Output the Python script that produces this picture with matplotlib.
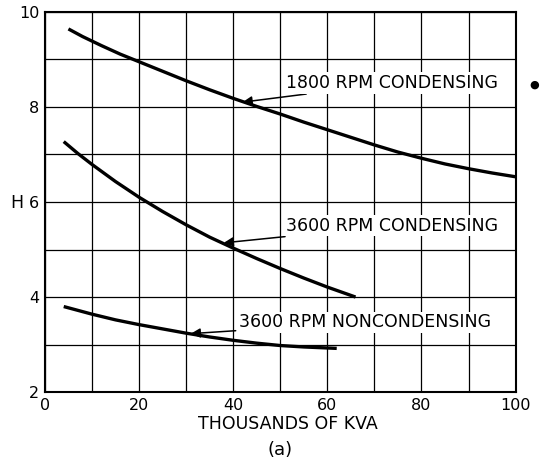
import numpy as np
import matplotlib
matplotlib.use('Agg')
import matplotlib.pyplot as plt

# curves (thousands of kVA vs H)
kva_1800c = [5, 8, 12, 16, 20, 25, 30, 35, 40, 45, 50, 55, 60, 65, 70, 75, 80, 85, 90, 95, 100]
h_1800c = [9.64, 9.48, 9.29, 9.11, 8.95, 8.75, 8.55, 8.36, 8.18, 8.01, 7.85, 7.68,
           7.52, 7.36, 7.2, 7.05, 6.92, 6.8, 6.7, 6.61, 6.53]

kva_3600c = [4, 7, 10, 15, 20, 25, 30, 35, 40, 45, 50, 55, 60, 66]
h_3600c = [7.27, 7.02, 6.79, 6.43, 6.1, 5.8, 5.52, 5.26, 5.03, 4.81, 4.6, 4.4, 4.21, 4.0]

kva_3600n = [4, 10, 15, 20, 25, 30, 35, 40, 45, 50, 55, 62]
h_3600n = [3.8, 3.64, 3.52, 3.42, 3.33, 3.24, 3.16, 3.09, 3.03, 2.98, 2.95, 2.92]

labels = ['1800 RPM CONDENSING', '3600 RPM CONDENSING', '3600 RPM NONCONDENSING']
label_xy = [(51.2, 8.5), (51.2, 5.5), (41.2, 3.47)]
arrow_tip = [(42, 8.1), (38, 5.14), (31, 3.23)]

plt.rcParams['font.family'] = 'DejaVu Sans'

fig = plt.figure(figsize=(5.41, 4.73), dpi=100)
ax = fig.add_axes([0.083, 0.171, 0.870, 0.804])

ax.set_xlim(0, 100)
ax.set_ylim(2, 10)
ax.set_xticks(np.arange(0, 101, 10))
ax.set_yticks(np.arange(2, 10.1, 1))
ax.set_xticklabels([str(v) if v % 20 == 0 else '' for v in range(0, 101, 10)])
ax.set_yticklabels([str(v) if v % 2 == 0 else '' for v in range(2, 11)])
ax.tick_params(length=0, labelsize=11.5, pad=4)
ax.grid(True, color='black', linewidth=0.9)
for s in ax.spines.values():
    s.set_linewidth(1.5)

for x, y in [(kva_1800c, h_1800c), (kva_3600c, h_3600c), (kva_3600n, h_3600n)]:
    ax.plot(x, y, color='black', linewidth=2.4, solid_capstyle='butt')

for txt, (tx, ty), (ax_, ay) in zip(labels, label_xy, arrow_tip):
    ax.annotate(txt, xy=(ax_, ay), xytext=(tx, ty), fontsize=12.5, va='center', ha='left',
                bbox=dict(boxstyle='square,pad=0.1', fc='white', ec='none'),
                arrowprops=dict(arrowstyle='-|>', color='black', lw=1.1, mutation_scale=14,
                                shrinkA=1, shrinkB=0))

fig.text(0.032, 0.571, 'H', fontsize=12.5, ha='center', va='center')
fig.text(0.532, 0.103, 'THOUSANDS OF KVA', fontsize=12.5, ha='center', va='center')
fig.text(0.518, 0.048, '(a)', fontsize=13, ha='center', va='center')
fig.text(0.988, 0.82, '\u25cf', fontsize=8, ha='center', va='center')

fig.savefig('out.png', dpi=100)
